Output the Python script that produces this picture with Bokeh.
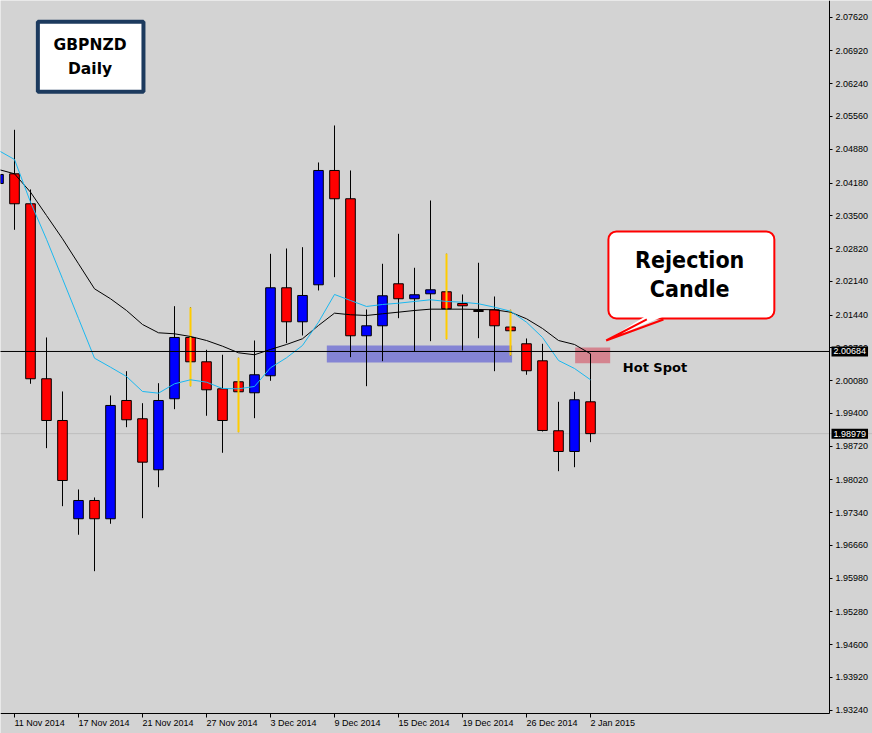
from bokeh.plotting import figure
from bokeh.models import (Range1d, FixedTicker, LinearAxis, BoxAnnotation, Label, Span,
                          ColumnDataSource, PrintfTickFormatter)
from bokeh.embed import file_html
from bokeh.resources import INLINE

# ---------------- data ----------------
dates = ["10 Nov 2014", "11 Nov 2014", "12 Nov 2014", "13 Nov 2014", "14 Nov 2014",
         "17 Nov 2014", "18 Nov 2014", "19 Nov 2014", "20 Nov 2014", "21 Nov 2014",
         "24 Nov 2014", "25 Nov 2014", "26 Nov 2014", "27 Nov 2014", "28 Nov 2014",
         "1 Dec 2014", "2 Dec 2014", "3 Dec 2014", "4 Dec 2014", "5 Dec 2014",
         "8 Dec 2014", "9 Dec 2014", "10 Dec 2014", "11 Dec 2014", "12 Dec 2014",
         "15 Dec 2014", "16 Dec 2014", "17 Dec 2014", "18 Dec 2014", "19 Dec 2014",
         "22 Dec 2014", "23 Dec 2014", "24 Dec 2014", "26 Dec 2014",
         "29 Dec 2014", "30 Dec 2014", "31 Dec 2014", "2 Jan 2015"]
bar_index = list(range(-1, 37))

opens = [2.04170, 2.04371, 2.03749, 2.00118, 1.99252, 1.97213, 1.97592, 1.97213, 1.99667, 1.99288,
         1.98229, 1.99703, 2.00975, 2.00470, 1.99910, 2.00055, 1.99827, 2.00180, 2.02006, 2.01300,
         2.02068, 2.04440, 2.03853, 2.01010, 2.01217, 2.02089, 2.01778, 2.01881, 2.01923, 2.01680,
         2.01535, 2.01549, 2.01192, 2.00844, 2.00491, 1.99039, 1.98609, 1.99640]
highs = [2.04419, 2.05284, 2.04046, 2.00975, 1.99854, 1.97821, 1.97655, 1.99771, 2.00275, 1.99611,
         2.00026, 2.01624, 2.01597, 2.00719, 2.00616, 2.00553, 2.00912, 2.02711, 2.02821, 2.02848,
         2.04606, 2.05374, 2.04440, 2.01556, 2.02504, 2.03126, 2.02421, 2.03817, 2.02711, 2.01867,
         2.02525, 2.01825, 2.01549, 2.00954, 2.00844, 1.99640, 1.99848, 2.00636]
lows = [2.04108, 2.03209, 2.00014, 1.98678, 1.97474, 1.96881, 1.96125, 1.97109, 1.99113, 1.97225,
        1.97868, 1.99487, 1.99964, 1.99350, 1.98582, 1.99010, 1.99300, 2.00076, 2.00856, 2.01016,
        2.01950, 2.02226, 2.00566, 1.99964, 2.00483, 2.01375, 2.00690, 2.00898, 2.00939, 2.00705,
        2.00960, 2.00275, 2.00601, 2.00201, 1.99024, 1.98200, 1.98283, 1.98802]
closes = [2.04357, 2.03749, 2.00118, 1.99252, 1.98007, 1.97592, 1.97213, 1.99564, 1.99267, 1.98387,
          1.99667, 2.00975, 2.00470, 1.99889, 1.99252, 1.99848, 2.00201, 2.02006, 2.01300, 2.01846,
          2.04440, 2.03853, 2.01010, 2.01217, 2.01840, 2.01778, 2.01861, 2.01964, 2.01570, 2.01632,
          2.01514, 2.01217, 2.01114, 2.00284, 1.99045, 1.98609, 1.99682, 1.98979]

ma_fast = [2.04855, 2.04668, 2.03782, 2.03012, 2.02193, 2.01369, 2.00545, 2.00358, 2.00165, 1.99854,
           1.99819, 2.00014, 2.00097, 2.00047, 1.99916, 1.99910, 1.99958, 2.00346, 2.00553, 2.00809,
           2.01292, 2.01867, 2.01742, 2.01618, 2.01659, 2.01686, 2.01722, 2.01757, 2.01722, 2.01707,
           2.01674, 2.01603, 2.01520, 2.01292, 2.00975, 2.00497, 2.00331, 2.00097]
ma_slow = [2.04461, 2.04371, 2.03990, 2.03506, 2.03023, 2.02504, 2.01985, 2.01778, 2.01535, 2.01244,
           2.01072, 2.01051, 2.00995, 2.00912, 2.00794, 2.00657, 2.00616, 2.00726, 2.00829, 2.00948,
           2.01224, 2.01479, 2.01446, 2.01431, 2.01466, 2.01500, 2.01535, 2.01562, 2.01562, 2.01562,
           2.01556, 2.01549, 2.01500, 2.01363, 2.01161, 2.00912, 2.00829, 2.00636]

# analyst's yellow highlight lines (bar index, bottom, top)
yellow_idx = [11, 14, 27, 31]
yellow_bottom = [1.99964, 1.99010, 2.00939, 2.00601]
yellow_top = [2.01597, 2.00553, 2.02711, 2.01549]

hot_level = 2.00684
last_price = 1.98979

y_ticks = [2.07620, 2.06920, 2.06240, 2.05560, 2.04880, 2.04180, 2.03500, 2.02820, 2.02140,
           2.01440, 2.00760, 2.00080, 1.99400, 1.98720, 1.98020, 1.97340, 1.96660, 1.95980,
           1.95280, 1.94600, 1.93920, 1.93240]
x_tick_idx = [0, 4, 8, 12, 16, 20, 24, 28, 32, 36]

# ---------------- figure ----------------
BG = "#d3d3d3"
X0, X1 = -0.875, 53.625            # visible bar-index window
Y0, Y1 = 1.92757, 2.07967          # visible price window
AXIS_X = 50.9375                   # where the price scale sits
AXIS_Y = 1.93162                   # where the time scale sits
p = figure(width=872, height=733, output_backend="svg", toolbar_location=None,
           x_range=Range1d(X0, X1), y_range=Range1d(Y0, Y1),
           x_axis_location=None, y_axis_location=None,
           min_border_left=0, min_border_top=0, min_border_right=0, min_border_bottom=0,
           background_fill_color=BG, border_fill_color=BG, outline_line_color=None)
p.grid.visible = False

TICK_FONT = "Liberation Sans"
yaxis = LinearAxis(ticker=FixedTicker(ticks=y_ticks, minor_ticks=[]),
                   formatter=PrintfTickFormatter(format="%.5f"),
                   fixed_location=AXIS_X, bounds=(AXIS_Y, Y1 + 0.01))
xaxis = LinearAxis(ticker=FixedTicker(ticks=x_tick_idx, minor_ticks=[]),
                   major_label_overrides={i: dates[i + 1] for i in x_tick_idx},
                   fixed_location=AXIS_Y, bounds=(X0 - 1, AXIS_X))
for ax in (yaxis, xaxis):
    ax.axis_line_color = "black"
    ax.axis_line_width = 1
    ax.major_tick_line_color = "black"
    ax.major_tick_in = 0
    ax.minor_tick_line_color = None
    ax.major_label_text_font = TICK_FONT
    ax.major_label_text_font_size = "9px"
    ax.major_label_text_color = "black"
yaxis.major_tick_out = 3
yaxis.major_label_standoff = 3
xaxis.major_tick_out = 4
xaxis.major_label_standoff = 5
xaxis.major_label_orientation = -0.0001
p.add_layout(yaxis, "right")
p.add_layout(xaxis, "below")

# zones (behind candles)
p.add_layout(BoxAnnotation(left=19.52, right=31.1, bottom=2.00456, top=2.00809,
                           fill_color="#8484d4", fill_alpha=1, line_color=None, level="underlay"))
p.add_layout(BoxAnnotation(left=35.04, right=37.23, bottom=2.00441, top=2.00767,
                           fill_color="#d4848f", fill_alpha=1, line_color=None, level="underlay"))
p.add_layout(Span(location=last_price, dimension="width", line_color="#bdbdbd",
                  line_width=1, level="underlay"))

# candles
body_top = [max(o, c) for o, c in zip(opens, closes)]
body_bot = [min(o, c) for o, c in zip(opens, closes)]
body_col = ["#0000ff" if c > o else "#ff0000" for o, c in zip(opens, closes)]
src = ColumnDataSource(dict(x=bar_index, high=highs, low=lows, top=body_top,
                            bottom=body_bot, color=body_col))
p.segment(x0="x", y0="low", x1="x", y1="high", source=src, line_color="black", line_width=1)
p.vbar(x="x", top="top", bottom="bottom", width=0.6, source=src,
       fill_color="color", line_color="black", line_width=1)

# highlight lines
p.segment(x0=yellow_idx, y0=yellow_bottom, x1=yellow_idx, y1=yellow_top,
          line_color="#ffcc00", line_width=2)

# moving averages
p.line(bar_index, ma_slow, line_color="black", line_width=1)
p.line(bar_index, ma_fast, line_color="#1ab8f0", line_width=1)

# horizontal level (stops at the price scale)
p.segment(x0=[X0 - 1], y0=[hot_level], x1=[AXIS_X], y1=[hot_level], line_color="black", line_width=1)

# title box
p.add_layout(BoxAnnotation(left=1.46, right=8.06, bottom=2.06073, top=2.07525,
                           fill_color="white", fill_alpha=1, line_color="#1c3a5e",
                           line_alpha=1, line_width=4))
for txt, yy in (("GBPNZD", 2.07034), ("Daily", 2.06550)):
    p.add_layout(Label(x=4.72, y=yy, text=txt, text_align="center", text_baseline="middle",
                       text_font="DejaVu Sans", text_font_style="bold",
                       text_font_size="15.5px", text_color="black"))

# callout
p.add_layout(BoxAnnotation(left=37.12, right=47.49, bottom=2.01369, top=2.03174,
                           fill_color="white", fill_alpha=1, line_color="#ff0000",
                           line_alpha=1, line_width=2, border_radius=8))
tail = p.patch([39.45, 36.98, 40.62], [2.01420, 2.00912, 2.01420],
               fill_color="white", line_color=None)
tail.level = "overlay"
t1 = p.line([39.52, 36.98, 40.56], [2.01348, 2.00912, 2.01348], line_color="#ff0000", line_width=2)
t1.level = "overlay"
for txt, yy in (("Rejection", 2.02572), ("Candle", 2.01985)):
    p.add_layout(Label(x=42.2, y=yy, text=txt, text_align="center", text_baseline="middle",
                       text_font="DejaVu Sans Condensed",
                       text_font_style="bold", text_font_size="23px", text_color="black"))

p.add_layout(Label(x=38.02, y=2.00358, text="Hot Spot", text_align="left",
                   text_baseline="middle", text_font="DejaVu Sans", text_font_style="bold",
                   text_font_size="13px", text_color="black"))

# price tags on the price scale
for pr in (hot_level, last_price):
    p.add_layout(Label(x=51.0625, y=pr, text="%.5f" % pr, text_align="left",
                       text_baseline="middle", text_font=TICK_FONT, text_font_size="9px",
                       text_color="white", background_fill_color="black", padding=2))

open("out.html", "w").write(file_html(p, INLINE))
